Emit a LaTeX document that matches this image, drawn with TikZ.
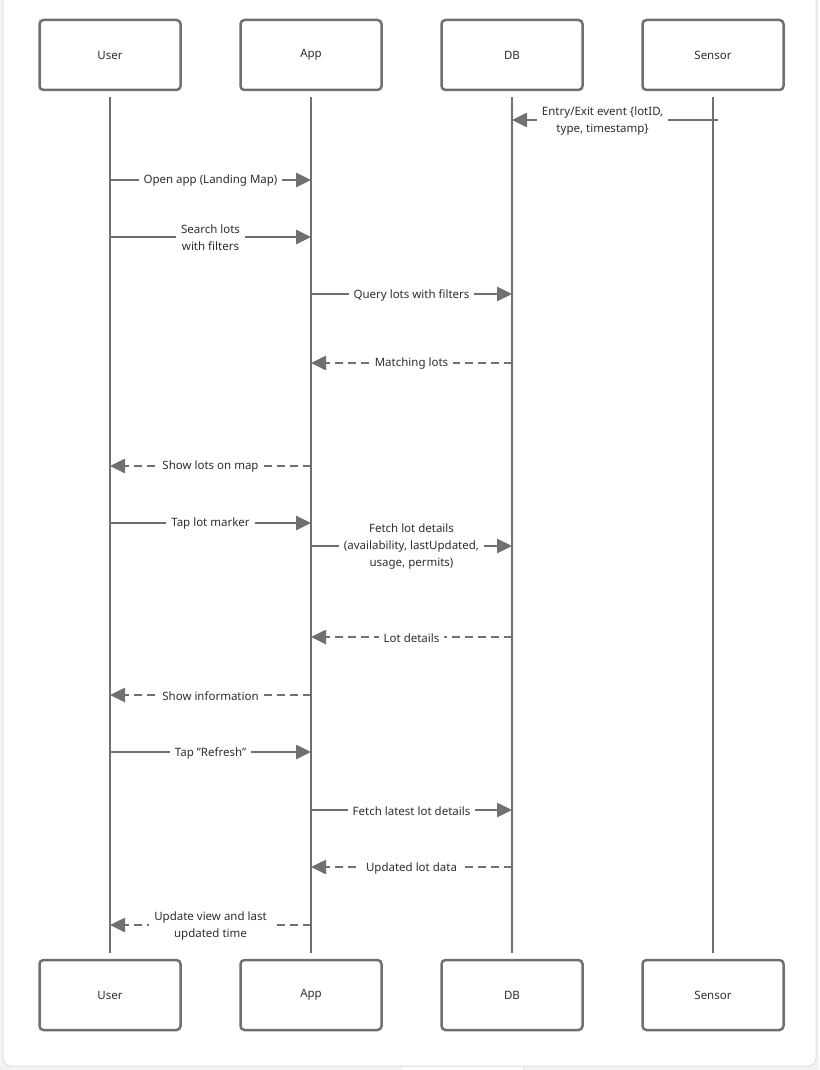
\documentclass[tikz,border=0pt]{standalone}
\usepackage{fontspec}
\setmainfont{Noto Sans}[Ligatures=NoCommon]
\usetikzlibrary{arrows.meta}
\definecolor{ln}{HTML}{707070}
\definecolor{tx}{HTML}{2E2E2E}
\definecolor{bg}{HTML}{F2F2F2}
\definecolor{cardb}{HTML}{E0E0E0}
\begin{document}
\begin{tikzpicture}[x=1pt,y=-1pt,
 actor/.style={draw=ln, line width=2.5pt, fill=white, rounded corners=4pt, minimum width=141pt, minimum height=70pt, font=\fontsize{11.5}{13}\selectfont, text=tx, inner sep=0pt},
 life/.style={draw=ln, line width=2.4pt},
 msg/.style={draw=ln, line width=2.6pt, -{Triangle[length=15pt,width=14pt]}},
 ret/.style={msg, dash pattern=on 8pt off 5pt},
 lbl/.style={fill=white, text=tx, font=\fontsize{11.5}{17}\selectfont, align=center, inner sep=5pt, yshift=-1pt}]
\useasboundingbox (0,0) rectangle (819,1070);
\fill[bg] (0,0) rectangle (819,1070);
\draw[cardb, line width=1pt, fill=white, rounded corners=8pt] (3,-10) rectangle (816,1066);
\fill[white] (403,1067) rectangle (523,1070);
\draw[cardb, line width=0.8pt] (523,1067) -- (523,1070);
% actors
\node[actor] (uT) at (110,55) {User};
\node[actor] (aT) at (311,55) {App};
\node[actor] (dT) at (512,55) {DB};
\node[actor] (sT) at (713,55) {Sensor};
\node[actor] (uB) at (110,995) {User};
\node[actor] (aB) at (311,995) {App};
\node[actor] (dB) at (512,995) {DB};
\node[actor] (sB) at (713,995) {Sensor};
% lifelines
\draw[life, shorten <=6pt, shorten >=6pt] (uT.south) -- (uB.north);
\draw[life, shorten <=6pt, shorten >=6pt] (aT.south) -- (aB.north);
\draw[life, shorten <=6pt, shorten >=6pt] (dT.south) -- (dB.north);
\draw[life, shorten <=6pt, shorten >=6pt] (sT.south) -- (sB.north);
% message endpoints
\coordinate (s1) at (718,120); \coordinate (d1) at (512,120);
\coordinate (u2) at (110,180); \coordinate (a2) at (311,180);
\coordinate (u3) at (110,237); \coordinate (a3) at (311,237);
\coordinate (a4) at (311,294); \coordinate (d4) at (512,294);
\coordinate (d5) at (512,363); \coordinate (a5) at (311,363);
\coordinate (a6) at (311,466); \coordinate (u6) at (110,466);
\coordinate (u7) at (110,523); \coordinate (a7) at (311,523);
\coordinate (a8) at (311,546); \coordinate (d8) at (512,546);
\coordinate (d9) at (512,637); \coordinate (a9) at (311,637);
\coordinate (a10) at (311,695); \coordinate (u10) at (110,695);
\coordinate (u11) at (110,752); \coordinate (a11) at (311,752);
\coordinate (a12) at (311,810); \coordinate (d12) at (512,810);
\coordinate (d13) at (512,867); \coordinate (a13) at (311,867);
\coordinate (a14) at (311,925); \coordinate (u14) at (110,925);
% messages
\draw[msg] (s1) -- (d1) node[lbl, pos=0.56] (l1) {Entry/Exit event \{lotID,\\type, timestamp\}};
\draw[msg] (u2) -- (a2) node[lbl, midway] (l2) {Open app (Landing Map)};
\draw[msg] (u3) -- (a3) node[lbl, midway] (l3) {Search lots\\with filters};
\draw[msg] (a4) -- (d4) node[lbl, midway] (l4) {Query lots with filters};
\draw[ret] (d5) -- (a5) node[lbl, midway] (l5) {Matching lots};
\draw[ret] (a6) -- (u6) node[lbl, midway] (l6) {Show lots on map};
\draw[msg] (u7) -- (a7) node[lbl, midway] (l7) {Tap lot marker};
\draw[msg] (a8) -- (d8) node[lbl, midway] (l8) {Fetch lot details\\(availability, lastUpdated,\\usage, permits)};
\draw[ret] (d9) -- (a9) node[lbl, midway] (l9) {Lot details};
\draw[ret] (a10) -- (u10) node[lbl, midway] (l10) {Show information};
\draw[msg] (u11) -- (a11) node[lbl, midway] (l11) {Tap \symbol{"22}Refresh\symbol{"22}};
\draw[msg] (a12) -- (d12) node[lbl, midway] (l12) {Fetch latest lot details};
\draw[ret] (d13) -- (a13) node[lbl, midway] (l13) {Updated lot data};
\draw[ret] (a14) -- (u14) node[lbl, midway] (l14) {Update view and last\\updated time};
\end{tikzpicture}
\end{document}
